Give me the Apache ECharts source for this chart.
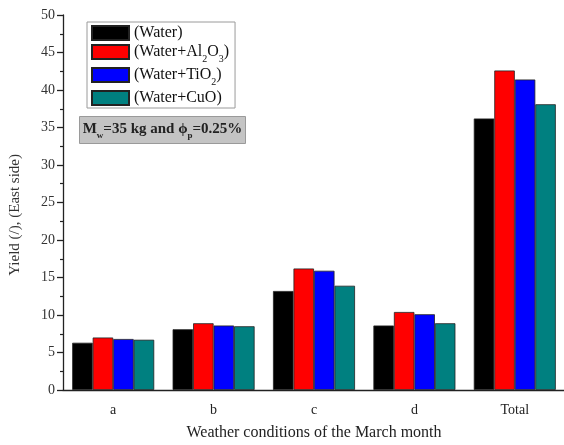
<!DOCTYPE html>
<html>
<head>
<meta charset="utf-8">
<script src="https://cdn.jsdelivr.net/npm/echarts@6/dist/echarts.min.js"></script>
<style>
  html, body { margin: 0; padding: 0; background: #fff; }
  #chart { width: 564px; height: 445px; }
</style>
</head>
<body>
<div id="chart"></div>
<script>
// Weather conditions (x categories)
var categories = ['a', 'b', 'c', 'd', 'Total'];

// Yield for each working fluid
var water      = [6.3, 8.1, 13.2, 8.6, 36.2];
var waterAl2O3 = [7.0, 8.9, 16.2, 10.4, 42.6];
var waterTiO2  = [6.8, 8.6, 15.9, 10.1, 41.4];
var waterCuO   = [6.7, 8.5, 13.9, 8.9, 38.1];

var seriesNames = ['Water', 'Water+Al2O3', 'Water+TiO2', 'Water+CuO'];
var seriesColors = ['#000000', '#ff0000', '#0000ff', '#008080'];
var seriesValues = [water, waterAl2O3, waterTiO2, waterCuO];

// Legend labels with subscripted formulas
var legendLabels = {
  'Water': '{m|(Water)}',
  'Water+Al2O3': '{m|(Water+Al}{s|2}{m|O}{s|3}{m|)}',
  'Water+TiO2': '{m|(Water+TiO}{s|2}{m|)}',
  'Water+CuO': '{m|(Water+CuO)}'
};

var serif = '"Liberation Serif", "Times New Roman", serif';

var chart = echarts.init(document.getElementById('chart'));

var series = seriesNames.map(function (name, i) {
  return {
    name: name,
    type: 'bar',
    xAxisIndex: 0,
    data: seriesValues[i],
    barWidth: 20.5,
    barGap: '0%',
    itemStyle: { color: seriesColors[i], borderColor: '#222', borderWidth: 0.8 }
  };
});

chart.setOption({
  animation: false,
  backgroundColor: '#fff',
  grid: { left: 63, top: 15, width: 502, height: 375, containLabel: false, outerBoundsMode: 'none' },
  legend: {
    orient: 'vertical',
    left: 87,
    top: 22,
    padding: [3, 6, 2, 4],
    itemGap: 3,
    itemWidth: 37,
    itemHeight: 14,
    icon: 'rect',
    backgroundColor: '#fff',
    borderColor: '#9a9a9a',
    borderWidth: 1,
    data: seriesNames,
    formatter: function (name) { return legendLabels[name]; },
    textStyle: {
      rich: {
        m: { fontFamily: serif, fontSize: 16, color: '#111', lineHeight: 18, verticalAlign: 'middle' },
        s: { fontFamily: serif, fontSize: 10, color: '#111', lineHeight: 24, verticalAlign: 'bottom' }
      }
    }
  },
  xAxis: [
    {
      type: 'category',
      data: categories,
      name: 'Weather conditions of the March month',
      nameLocation: 'middle',
      nameGap: 35,
      nameTextStyle: { fontFamily: serif, fontSize: 16, color: '#222' },
      axisLine: { lineStyle: { color: '#222', width: 1.3 } },
      axisTick: { length: 3, lineStyle: { color: '#222', width: 1.3 } },
      axisLabel: { fontFamily: serif, fontSize: 14, color: '#222', margin: 13 }
    },
    {
      type: 'category',
      data: categories,
      position: 'bottom',
      axisLine: { show: false },
      axisTick: { alignWithLabel: true, length: 7, lineStyle: { color: '#222', width: 1.3 } },
      axisLabel: { show: false }
    }
  ],
  yAxis: {
    type: 'value',
    min: 0,
    max: 50,
    interval: 5,
    axisLine: { show: true, lineStyle: { color: '#222', width: 1.3 } },
    axisTick: { show: true, length: 6, lineStyle: { color: '#222', width: 1.3 } },
    minorTick: { show: true, splitNumber: 2, length: 3, lineStyle: { color: '#222', width: 1.2 } },
    splitLine: { show: false },
    axisLabel: { fontFamily: serif, fontSize: 14, color: '#333', margin: 8 }
  },
  graphic: [
    {
      type: 'text',
      left: 8,
      top: 154,
      rotation: Math.PI / 2,
      originX: 0,
      originY: 0,
      style: {
        text: 'Yield (/), (East side)',
        fontFamily: serif,
        fontSize: 15,
        fill: '#333'
      }
    },
    {
      type: 'group',
      left: 79,
      top: 116,
      children: [
        {
          type: 'rect',
          shape: { x: 0, y: 0, width: 166, height: 27 },
          style: { fill: '#c4c4c4', stroke: '#9a9a9a', lineWidth: 1 }
        },
        {
          type: 'text',
          x: 83,
          y: 13,
          style: {
            text: '{b|M}{bs|w}{b|=35 kg and ϕ}{bs|p}{b|=0.25%}',
            align: 'center',
            verticalAlign: 'middle',
            rich: {
              b: { fontFamily: serif, fontSize: 15, fontWeight: 'bold', fill: '#222', lineHeight: 16, verticalAlign: 'middle' },
              bs: { fontFamily: serif, fontSize: 9, fontWeight: 'bold', fill: '#222', lineHeight: 22, verticalAlign: 'bottom' }
            }
          }
        }
      ]
    }
  ],
  series: series
});
</script>
</body>
</html>
